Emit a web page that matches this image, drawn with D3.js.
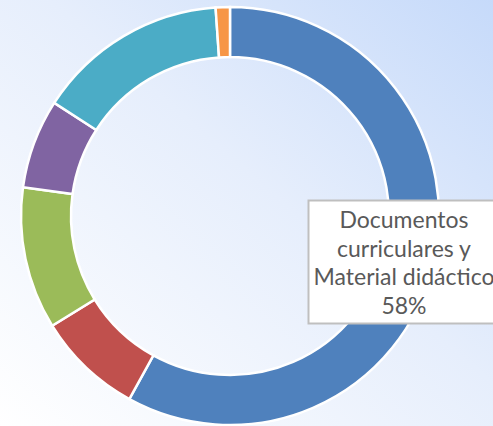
<!DOCTYPE html>
<html>
<head>
<meta charset="utf-8">
<script src="https://cdn.jsdelivr.net/npm/d3@7"></script>
<style>
  html, body { margin: 0; padding: 0; overflow: hidden; }
  svg { display: block; }
</style>
</head>
<body>
<div id="chart"></div>
<script>
(function(){
	var width = 493,
	height = 426;

	// data (percent of the total)
	var categories = ["Documentos curriculares y Material didáctico", "Capacitación", "Infraestructura", "Equipamiento", "Acompañamiento pedagógico", "Otros"];
	var values = [58, 8.2, 11, 6.9, 14.8, 1.1];
	var colors = ["#4F81BD", "#C0504D", "#9BBB59", "#8064A2", "#4BACC6", "#F79646"];
	var labelLines = ["Documentos", "curriculares y", "Material didáctico", "58%"];

	var data = categories.map(function(c, i){ return {name: c, value: values[i]}; });

	var svg = d3.select("#chart").append("svg")
		.attr("width", width)
		.attr("height", height);

	// background gradient, white bottom-left to light blue top-right
	var grad = svg.append("defs").append("linearGradient")
		.attr("id", "bg")
		.attr("x1", "0%").attr("y1", "100%")
		.attr("x2", "100%").attr("y2", "0%");
	grad.append("stop").attr("offset", "0%").attr("stop-color", "#FFFFFF");
	grad.append("stop").attr("offset", "55%").attr("stop-color", "#E6EEFC");
	grad.append("stop").attr("offset", "100%").attr("stop-color", "#C6DAFA");

	svg.append("rect")
		.attr("width", width)
		.attr("height", height)
		.attr("fill", "url(#bg)");

	var cx = 230, cy = 216;
	var outerR = 209, innerR = 159;

	var pie = d3.pie()
		.sort(null)
		.value(function(d){ return d.value; });

	var arc = d3.arc()
		.innerRadius(innerR)
		.outerRadius(outerR);

	var color = d3.scaleOrdinal()
		.domain(categories)
		.range(colors);

	var g = svg.append("g")
		.attr("transform", "translate(" + cx + "," + cy + ")");

	g.selectAll("path")
		.data(pie(data))
		.enter().append("path")
			.attr("d", arc)
			.style("fill", function(d){ return color(d.data.name); })
			.style("stroke", "white")
			.style("stroke-width", 2.5);

	// data label for the biggest slice
	var box = svg.append("g").attr("class", "label");
	box.append("rect")
		.attr("x", 308.5)
		.attr("y", 200.5)
		.attr("width", 200)
		.attr("height", 123)
		.style("fill", "white")
		.style("stroke", "#BFBFBF")
		.style("stroke-width", 2);

	box.selectAll("text")
		.data(labelLines)
		.enter().append("text")
			.attr("x", 404)
			.attr("y", function(d, i){ return 228 + i * 28.7; })
			.attr("text-anchor", "middle")
			.style("font-family", "Lato, 'Open Sans', sans-serif")
			.style("font-size", "23px")
			.style("fill", "#595959")
			.text(function(d){ return d; });
})();
</script>
</body>
</html>
